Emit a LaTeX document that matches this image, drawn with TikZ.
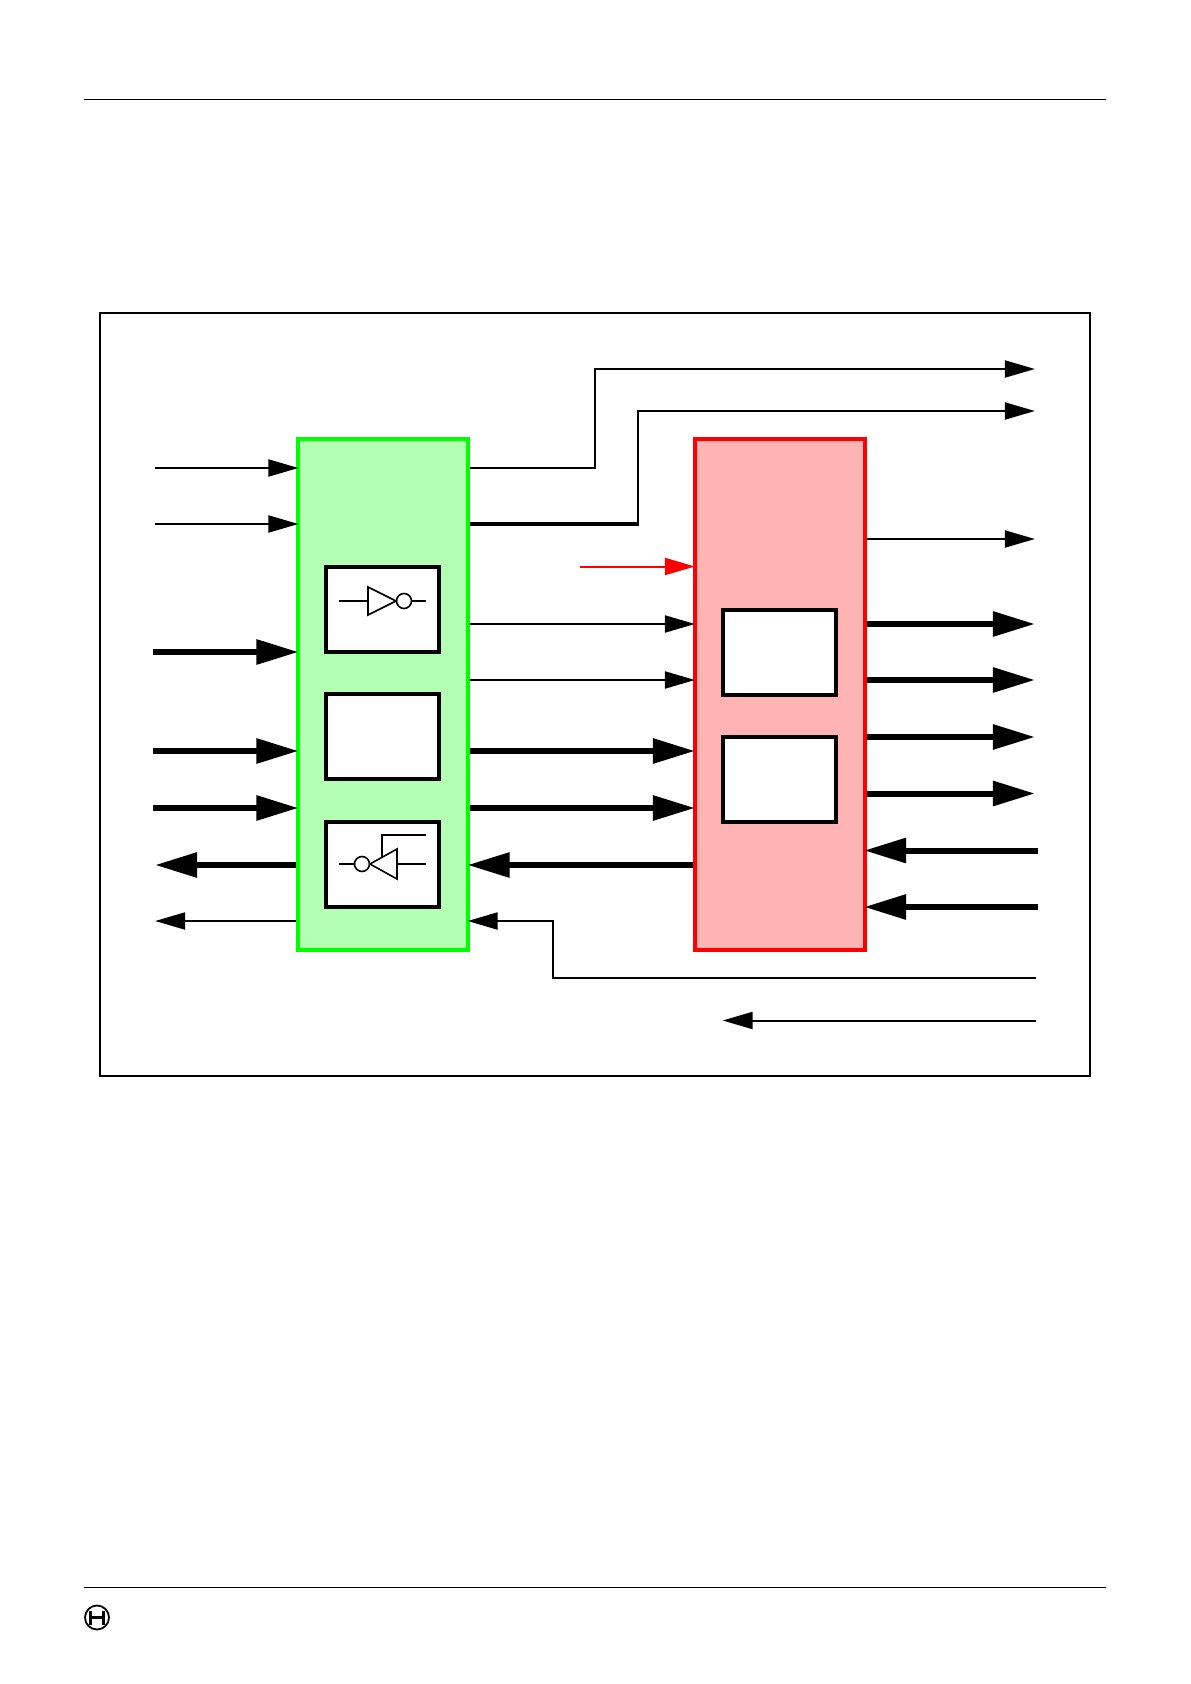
\documentclass[tikz,border=0pt]{standalone}
\usetikzlibrary{arrows.meta,calc,positioning}
\definecolor{ecugreen}{HTML}{00FF00}
\definecolor{ecugreenfill}{HTML}{B3FFB3}
\definecolor{ecured}{HTML}{FF0000}
\definecolor{ecuredfill}{HTML}{FFB3B3}
\tikzset{
  unitbox/.style={draw,rectangle,line width=2pt,inner sep=0pt,minimum width=85pt,minimum height=255.5pt},
  subbox/.style={draw=black,fill=white,rectangle,line width=2pt,inner sep=0pt,minimum width=56.5pt,minimum height=42.5pt},
  thinarrow/.style={draw=black,line width=1pt,shorten >=-1.2pt,-{Triangle[length=15pt,width=8.5pt]}},
  thickarrow/.style={draw=black,line width=3pt,shorten >=-1.2pt,-{Triangle[length=21pt,width=12pt]}},
  redarrow/.style={draw=ecured,line width=1pt,shorten >=-1.2pt,-{Triangle[length=15pt,width=8.5pt]}},
  gateline/.style={draw=black,line width=0.8pt},
}
\begin{document}
\begin{tikzpicture}[x=0.5pt,y=-0.5pt]
        \useasboundingbox (0,0) rectangle (1190,1684);
        \draw[line width=0.5pt] (84,99.75) -- (1106,99.75);
        \draw[line width=0.5pt] (84,1587.5) -- (1106,1587.5);
        \draw[line width=1pt] (100,313.5) rectangle (1090,1076);
        \node[unitbox,draw=ecugreen,fill=ecugreenfill] (pads) at (383,694.5) {};
        \node[unitbox,draw=ecured,fill=ecuredfill] (core) at (779.5,694.5) {};
        \foreach \n/\x/\y in {a/382.5/609.5,b/382.5/736.5,c/382.5/864.5}
          {\node[subbox] (pad\n) at (\x,\y) {};}
        \foreach \n/\x/\y in {a/779.5/652,b/779.5/779.5}
          {\node[subbox] (reg\n) at (\x,\y) {};}
        % inverter
        \draw[gateline] (339,601) -- (368,601);
        \draw[gateline] (368,587) -- (396,601) -- (368,615) -- cycle;
        \draw[gateline] (404,601) circle (7.5);
        \draw[gateline] (411.5,601) -- (426,601);
        % tristate
        \draw[gateline] (339,864) -- (354.5,864);
        \draw[gateline] (362,864) circle (7.5);
        \draw[gateline] (370,864) -- (397,849) -- (397,879) -- cycle;
        \draw[gateline] (397,864) -- (426,864);
        \draw[gateline] (382,857) -- (382,835) -- (426,835);
        % left side
        \foreach \n/\y in {a/468,b/524}
          {\coordinate (in\n) at (155,\y); \draw[thinarrow] (in\n) -- (in\n -| pads.west);}
        \foreach \n/\y in {c/652,d/751,e/808}
          {\coordinate (in\n) at (153,\y); \draw[thickarrow] (in\n) -- (in\n -| pads.west);}
        \coordinate (outa) at (157.5,865);
        \coordinate (outb) at (157.5,921);
        \draw[thickarrow] (outa -| pads.west) -- (outa);
        \draw[thinarrow] (outb -| pads.west) -- (outb);
        % between the units
        \foreach \n/\y in {a/624,b/680}
          {\coordinate (mid\n) at (470,\y); \draw[thinarrow] (mid\n -| pads.east) -- (mid\n -| core.west);}
        \foreach \n/\y in {c/751,d/808}
          {\coordinate (mid\n) at (470,\y); \draw[thickarrow] (mid\n -| pads.east) -- (mid\n -| core.west);}
        \coordinate (back) at (470,865);
        \draw[thickarrow] (back -| core.west) -- (back -| pads.east);
        \coordinate (fault) at (580,566.5);
        \draw[redarrow] (fault) -- (fault -| core.west);
        % routed lines
        \coordinate (topa) at (1032.5,369);
        \coordinate (topb) at (1032.5,411);
        \coordinate (rowa) at (470,468);
        \coordinate (rowb) at (470,524);
        \draw[thinarrow] (rowa -| pads.east) -- (595,468) -- (595,369) -- (topa);
        \draw[thinarrow] (rowb -| pads.east) -- (638,524) -- (638,411) -- (topb);
        \draw[line width=1.6pt] (rowb -| pads.east) -- (638.75,524);
        \coordinate (retn) at (1036,978);
        \coordinate (retp) at (470,921);
        \draw[thinarrow] (retn) -- (553,978) -- (553,921) -- (retp -| pads.east);
        \coordinate (lowr) at (1036,1020.5);
        \coordinate (lowl) at (725,1020.5);
        \draw[thinarrow] (lowr) -- (lowl);
        % right side
        \coordinate (ra) at (1032.5,539);
        \draw[thinarrow] (ra -| core.east) -- (ra);
        \foreach \n/\y in {b/624,c/680,d/737,e/793.5}
          {\coordinate (r\n) at (1032.5,\y); \draw[thickarrow] (r\n -| core.east) -- (r\n);}
        \foreach \n/\y in {a/850.5,b/907}
          {\coordinate (rin\n) at (1038,\y); \draw[thickarrow] (rin\n) -- (rin\n -| core.east);}
        % logo
        \draw[line width=0.9pt] (97,1617.5) circle (12);
        \draw[line width=1.5pt] (90.5,1610.5) -- (90.5,1624.5) (103.5,1610.5) -- (103.5,1624.5);
        \draw[line width=1.2pt] (90.5,1617.5) -- (103.5,1617.5);
      \end{tikzpicture}
\end{document}
